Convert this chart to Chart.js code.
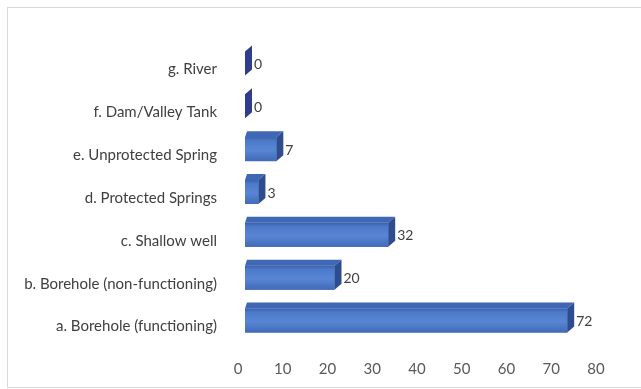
<!DOCTYPE html>
<html lang="en">
<head>
    <meta charset="utf-8">
    <script src="https://cdn.jsdelivr.net/npm/chart.js"></script>
    <title>Water sources</title>
    <style>
        body { margin: 0; background: #fff; }
        .frame {
            position: absolute; left: 7px; top: 7px;
            width: 700px; height: 381px;
            box-sizing: border-box;
            border: 1px solid #d9d9d9;
        }
        #chart { position: absolute; left: 0; top: 0; }
    </style>
</head>
<body>

<div class="frame"></div>
<canvas id="chart" width="641" height="389"></canvas>

<script>
    // Sources of water, bottom to top
    const categories = [
        'a. Borehole (functioning)',
        'b. Borehole (non-functioning)',
        'c. Shallow well',
        'd. Protected Springs',
        'e. Unprotected Spring',
        'f. Dam/Valley Tank',
        'g. River'
    ];
    const counts = [72, 20, 32, 3, 7, 0, 0];
    const axisMin = 0;
    const axisMax = 80;
    const axisStep = 10;

    const categoryFont = { family: 'Lato', size: 15 };
    const tickFont = { family: 'Lato', size: 15 };
    const valueFont = { family: 'Lato', size: 14 };

    // Fake 3D: bars sit slightly forward of the axis, with a top and a side face
    const depth = { dx: 7, dy: 6 };
    const shift = { x: 7, y: -6 };

    const bar3d = {
        id: 'bar3d',
        beforeDatasetsDraw(chart) {
            chart.ctx.save();
            chart.ctx.translate(shift.x, shift.y);
        },
        afterDatasetsDraw(chart) {
            const ctx = chart.ctx;
            const meta = chart.getDatasetMeta(0);
            meta.data.forEach((bar, i) => {
                const { x, y, base, height } = bar.getProps(['x', 'y', 'base', 'height'], true);
                const top = y - height / 2;
                const bottom = y + height / 2;

                // front face with a soft highlight
                if (x > base) {
                    const g = ctx.createLinearGradient(0, top, 0, bottom);
                    g.addColorStop(0, '#3a62ad');
                    g.addColorStop(0.15, '#4c79c8');
                    g.addColorStop(0.55, '#5886d4');
                    g.addColorStop(1, '#4169b6');
                    ctx.fillStyle = g;
                    ctx.fillRect(base, top, x - base, height);

                    // top face
                    ctx.beginPath();
                    ctx.moveTo(base, top);
                    ctx.lineTo(x, top);
                    ctx.lineTo(x + depth.dx, top - depth.dy);
                    ctx.lineTo(base + 2, top - depth.dy);
                    ctx.closePath();
                    ctx.fillStyle = '#3f67b3';
                    ctx.fill();
                }

                // side face
                ctx.beginPath();
                ctx.moveTo(x, top);
                ctx.lineTo(x + depth.dx, top - depth.dy);
                ctx.lineTo(x + depth.dx, bottom - depth.dy);
                ctx.lineTo(x, bottom);
                ctx.closePath();
                ctx.fillStyle = counts[i] === 0 ? '#2f3d8c' : '#2e4c90';
                ctx.fill();

                // value label
                ctx.fillStyle = '#404040';
                ctx.font = `${valueFont.size}px ${valueFont.family}`;
                ctx.textAlign = 'left';
                ctx.textBaseline = 'middle';
                ctx.fillText(String(counts[i]), x + depth.dx + 2, y + 1);
            });
            ctx.restore();
        }
    };

    new Chart(document.getElementById('chart'), {
        type: 'bar',
        data: {
            labels: categories,
            datasets: [{
                data: counts,
                backgroundColor: '#4a76c6',
                borderWidth: 0,
                categoryPercentage: 0.8,
                barPercentage: 0.7,
                clip: false
            }]
        },
        options: {
            indexAxis: 'y',
            responsive: false,
            animation: false,
            events: [],
            layout: { padding: { top: 48, right: 45, bottom: 0, left: 0 } },
            plugins: {
                legend: { display: false },
                tooltip: { enabled: false }
            },
            scales: {
                x: {
                    min: axisMin,
                    max: axisMax,
                    ticks: {
                        stepSize: axisStep,
                        color: '#595959',
                        font: tickFont,
                        padding: 12
                    },
                    grid: { display: false, drawTicks: false },
                    border: { display: false },
                    afterFit(scale) { scale.height = 41; }
                },
                y: {
                    reverse: true,
                    ticks: {
                        color: '#404040',
                        font: categoryFont,
                        padding: 21
                    },
                    grid: { display: false, drawTicks: false },
                    border: { display: false },
                    afterFit(scale) { scale.width = 238; }
                }
            }
        },
        plugins: [bar3d]
    });
</script>

</body>
</html>
